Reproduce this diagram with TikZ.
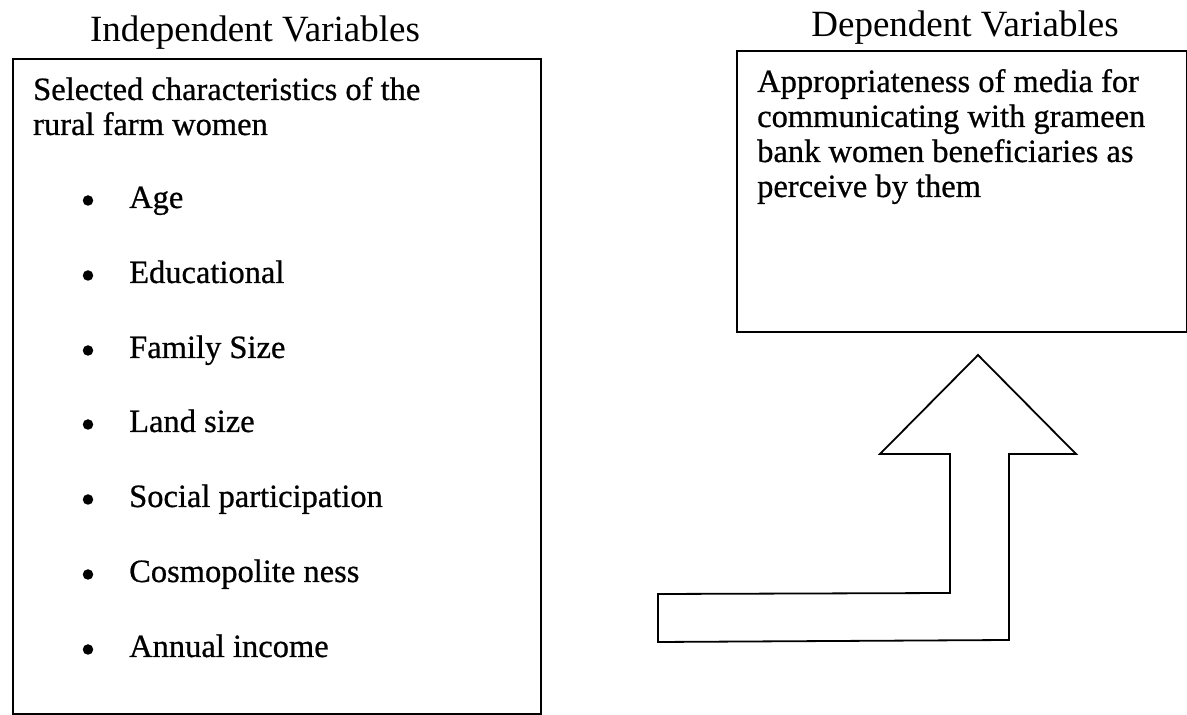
\documentclass[tikz,border=0pt]{standalone}
\usepackage{fontspec}
\setmainfont{Liberation Serif}
\newfontfamily\bodyfont[FakeBold=0.7]{Liberation Serif}
\begin{document}
\begin{tikzpicture}[x=1pt,y=1pt,
  titletext/.style={font=\fontsize{37}{40}\selectfont, anchor=base, inner sep=0pt},
  bodytext/.style={font=\bodyfont\fontsize{32.5}{35}\selectfont, anchor=base west, inner sep=0pt},
  framebox/.style={draw=black, line width=2.2pt, anchor=north west, inner sep=0pt},
  bulletdot/.style={circle, fill=black, minimum size=10.5pt, inner sep=0pt},
  blockarrow/.style={draw=black, line width=1.8pt, line join=miter}
]
\useasboundingbox (0,0) rectangle (1187,715);

% titles
\node[titletext] (tind) at (255,673) {Independent Variables};
\node[titletext] (tdep) at (965,678) {Dependent Variables};

% boxes
\node[framebox, minimum width=528pt, minimum height=655pt] (lbox) at (12,657) {};
\node[framebox, line width=2pt, minimum width=450pt, minimum height=281pt] (rbox) at (736,665) {};

% left box text
\node[bodytext] (l1) at (33,615) {Selected characteristics of the};
\node[bodytext] (l2) at (33,580) {rural farm women};

\foreach \y/\t [count=\i] in {507/Age, 432/Educational, 357/Family Size, 283/Land size, 208/Social participation, 133/Cosmopolite ness, 58/Annual income}{
  \node[bulletdot] (b\i) at (88,\y+7.5) {};
  \node[bodytext] (item\i) at (129,\y) {\t};
}

% right box text
\node[bodytext] (r1) at (757,623) {Appropriateness of media for};
\node[bodytext] (r2) at (757,588) {communicating with grameen};
\node[bodytext] (r3) at (757,553) {bank women beneficiaries as};
\node[bodytext] (r4) at (757,518) {perceive by them};

% block arrow
\coordinate (atip) at (978,360);
\draw[blockarrow] (atip) -- (880,261) -- (950,261) -- (950,122) -- (658,121)
  -- (658,73) -- (1009,75) -- (1009,261) -- (1076,261) -- cycle;
\end{tikzpicture}
\end{document}
